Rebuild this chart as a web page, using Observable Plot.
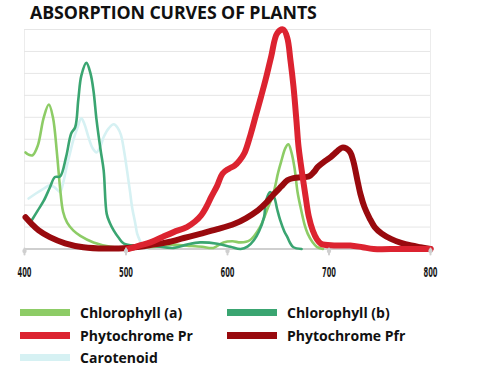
<!DOCTYPE html>
<html>
<head>
<meta charset="utf-8">
<script src="https://cdn.jsdelivr.net/npm/d3@7"></script>
<script src="https://cdn.jsdelivr.net/npm/@observablehq/plot@0.6"></script>
<style>
  html, body { margin: 0; padding: 0; background: #fff; }
  #wrap { position: relative; width: 492px; height: 373px; overflow: hidden; }
  #title { position: absolute; left: 30px; top: 0px; font-family: "Open Sans", sans-serif; font-weight: 700; font-size: 17.8px; color: #111; letter-spacing: -0.1px; }
  #chart { position: absolute; left: 0; top: 0; }
  #legend { position: absolute; left: 0; top: 0; width: 492px; height: 373px; font-family: "Open Sans", sans-serif; font-weight: 700; font-size: 14px; color: #111; }
  .item { position: absolute; display: flex; align-items: center; }
  .sw { width: 50px; height: 7px; margin-right: 10px; }
</style>
</head>
<body>
<div id="wrap">
  <div id="chart"></div>
  <div id="title">ABSORPTION CURVES OF PLANTS</div>
  <div id="legend"></div>
</div>
<script>
const seriesNames = ["Chlorophyll (a)", "Chlorophyll (b)", "Phytochrome Pr", "Phytochrome Pfr", "Carotenoid"];
const seriesColors = ["#8dcc66", "#3aa571", "#dc2330", "#990a0e", "#d6f1f3"];
const xTicks = [400, 500, 600, 700, 800];

// [wavelength nm, relative absorption 0-100]
const chlorophyllA = [[401,44],[404,43],[408,42.7],[413,47],[419,60],[424,65.8],[428,60],[432,43.5],[435,28],[438,17],[442,12],[448,8.5],[455,6],[468,3],[485,1],[505,0.5],[530,1],[545,2],[560,1.5],[575,1],[586,0.5],[596,3],[605,3.5],[613,3],[622,4],[632,10],[640,19],[645,25],[650,35],[653,40],[657,46],[660,47.7],[663,44],[666,37],[669,26],[672,19],[676,11],[679,7],[684,3],[688,1],[694,0]];
const chlorophyllB = [[407,13],[413,17.5],[419,22],[425,28],[430,32.8],[435,33],[441,42],[446,52.6],[450,55.6],[453,68],[456,79],[461,84.8],[465,80],[468,72],[471,58.7],[475,45],[478,35.8],[481,16],[484,12],[488,8.4],[493,5],[498,2.4],[510,1.5],[525,1.5],[547,0.5],[560,2],[573,3],[590,2.4],[603,1],[613,0],[620,1.2],[626,4],[631,8],[636,14.5],[638,22],[642,26],[646,23.6],[649,18],[652,13],[656,8],[659,5.4],[662,2.5],[665,0.8],[673,0]];
const phytochromePr = [[502,0],[513,1.5],[524,3],[536,5.5],[547,7.7],[560,10],[568,12.5],[574,15.3],[579,19],[584,23.7],[590,29],[595,34.3],[601,36.5],[607,38],[612,40.4],[617,44],[623,52.6],[628,61],[633,69.3],[638,78],[643,87.6],[649,98.3],[655,100],[659,96],[662,86],[665,74],[668,58],[670,46.5],[674,33],[677,23.7],[680,15],[684,8.4],[688,4.5],[692,2.4],[705,1.6],[721,1.6],[733,0.8],[744,0],[770,0],[800,0]];
const phytochromePfr = [[401,14.5],[407,11.5],[414,8.5],[425,5.4],[440,2.6],[458,0.8],[480,0.2],[502,0.5],[520,1.5],[540,3],[557,5],[574,7],[590,9],[607,11.5],[618,14],[630,17.6],[638,21],[646,25.2],[653,28.5],[659,31.3],[665,32.3],[672,32.7],[680,33],[685,35],[689,37.4],[696,40],[702,42],[708,44.5],[713,46.2],[717,45.8],[721,44],[724,40],[728,31.3],[731,25],[735,19],[740,14],[745,10],[752,7],[761,4.6],[771,2.8],[781,1.6],[790,0.8],[800,0]];
const carotenoid = [[404,23],[412,25.5],[419,27.5],[425,29],[430,28],[435,26],[438,30],[441.5,37.4],[445,44],[448,49.5],[452,55],[456,59.5],[459,57],[463,51],[467,46],[471,44],[475,47],[478,51],[483,55],[488,56.8],[492,55],[495,52],[498,45],[501,35.8],[504,26],[506,19],[509,12],[511,7],[514,3.5],[516,1.6],[521,0]];

const allSeries = [chlorophyllA, chlorophyllB, phytochromePr, phytochromePfr, carotenoid];
const widths = [2.6, 2.6, 6, 6, 2.6];
const drawOrder = [4, 0, 1, 3, 2];

const rows = [];
drawOrder.forEach(i => {
  allSeries[i].forEach(([x, y]) => rows.push({name: seriesNames[i], x, y}));
});

const marks = [
  Plot.frame({stroke: "#ececec", strokeWidth: 1}),
  Plot.gridY(d3.range(10, 101, 10), {stroke: "#e6e6e6", strokeOpacity: 1}),
  Plot.ruleY([0], {stroke: "#cfcfcf", strokeWidth: 2})
];
drawOrder.forEach(i => {
  marks.push(Plot.line(rows.filter(d => d.name === seriesNames[i]), {
    x: "x", y: "y", stroke: seriesColors[i], strokeWidth: widths[i],
    curve: "catmull-rom", strokeLinejoin: "round", strokeLinecap: "round"
  }));
});
marks.push(Plot.axisX(xTicks, {
  tickSize: 6, stroke: "#cfcfcf", strokeWidth: 2, strokeLinecap: "round",
  tickPadding: 12, fill: "#1a1a1a", label: null, fontSize: 14,
  fontFamily: "'DejaVu Sans', sans-serif", fontWeight: "bold",
  tickFormat: d => String(d)
}));
marks.push(Plot.dot(xTicks, {x: d => d, y: () => 0, r: 2.2, fill: "#cfcfcf", dy: 2}));

const chart = Plot.plot({
  width: 492, height: 290,
  marginLeft: 24, marginRight: 62, marginTop: 29, marginBottom: 41.5,
  x: {domain: [400, 800], label: null},
  y: {domain: [0, 100], axis: null},
  style: {background: "transparent", overflow: "visible"},
  marks
});
document.getElementById("chart").appendChild(chart);

// condense tick labels horizontally around their anchor
chart.querySelectorAll("text").forEach(t => {
  if (!/^\d+$/.test(t.textContent.trim())) return;
  const tr = t.getAttribute("transform");
  if (tr && /translate/.test(tr)) t.setAttribute("transform", tr + " scale(0.48,1)");
});

// legend
const legend = document.getElementById("legend");
const legendPos = [
  {i: 0, left: 20, top: 312}, {i: 1, left: 227, top: 312},
  {i: 2, left: 20, top: 335}, {i: 3, left: 227, top: 335},
  {i: 4, left: 20, top: 357.5}
];
legendPos.forEach(({i, left, top}) => {
  const el = document.createElement("div");
  el.className = "item";
  el.style.left = left + "px";
  el.style.top = (top - 10) + "px";
  el.style.height = "20px";
  el.innerHTML = `<div class="sw" style="background:${seriesColors[i]}"></div><span>${seriesNames[i]}</span>`;
  legend.appendChild(el);
});
</script>
</body>
</html>
